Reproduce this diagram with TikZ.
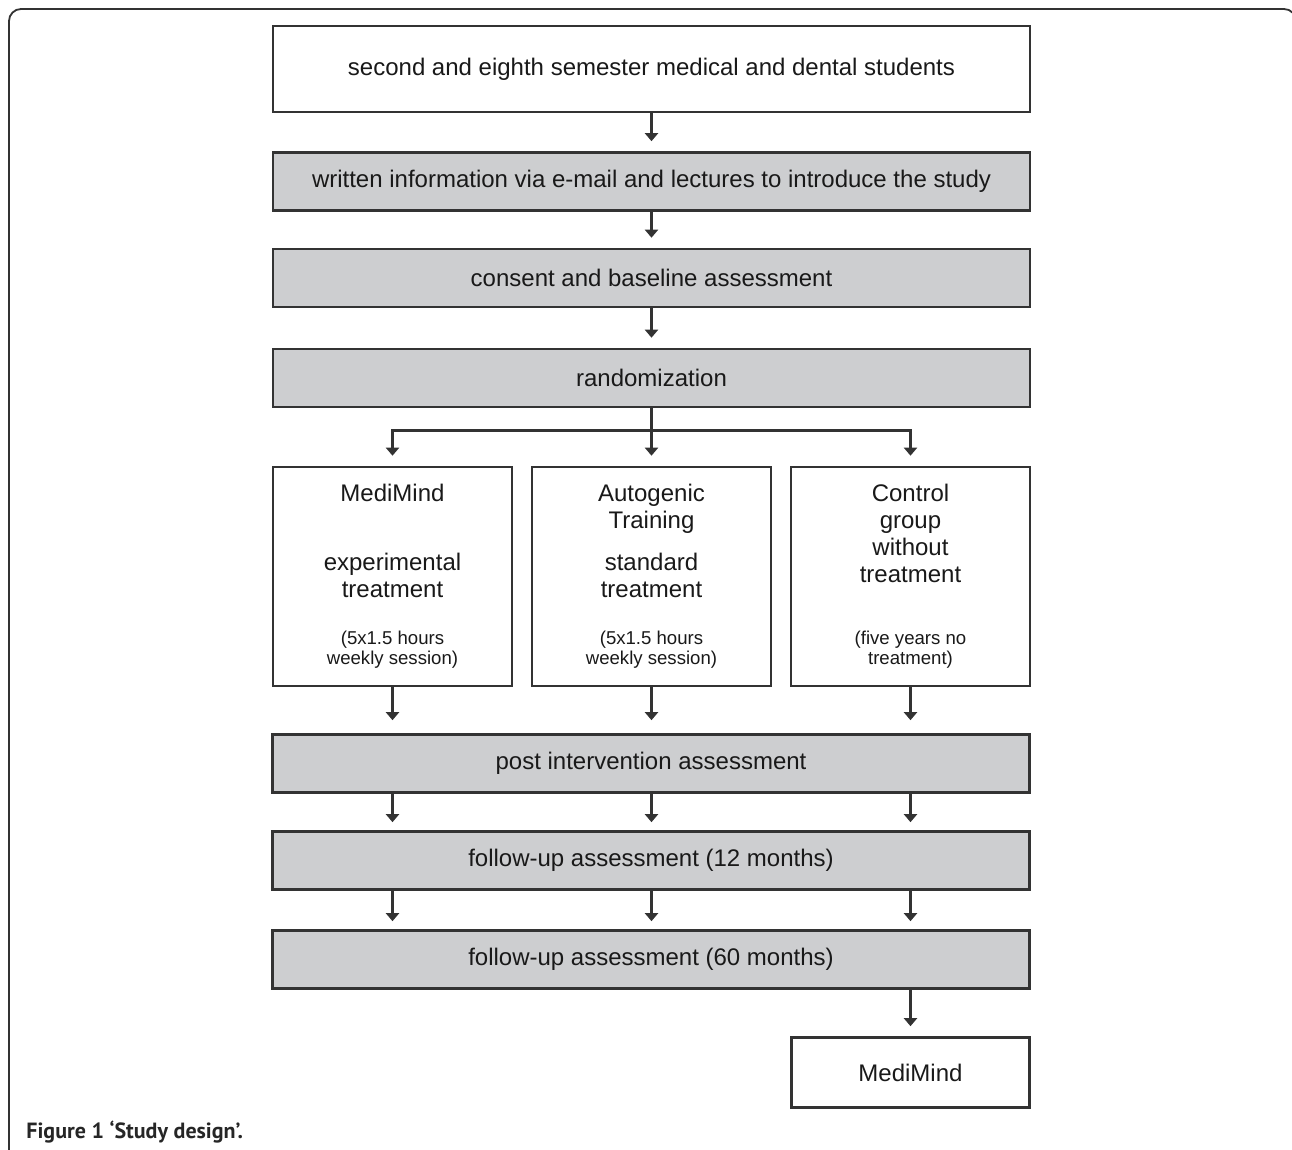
\documentclass[tikz,border=0pt]{standalone}
\usepackage{fontspec}
\setmainfont{Liberation Sans}
\newfontfamily\capfont{PT Sans}
\usetikzlibrary{shapes.geometric, arrows.meta}
\definecolor{boxgray}{RGB}{205,206,208}
\definecolor{linegray}{RGB}{51,51,51}
\newcommand{\notefont}{\fontsize{9.3}{10}\selectfont}
\tikzstyle{whitebox} = [rectangle, minimum width=378.5pt, minimum height=29pt, inner sep=0pt, align=flush center, draw=linegray, line width=1.3pt, fill=white]
\tikzstyle{graybox} = [whitebox, fill=boxgray]
\tikzstyle{armbox} = [whitebox, minimum width=119.5pt, text width=119.5pt, minimum height=109.5pt]
\tikzstyle{arrow} = [line width=1.3pt, draw=linegray, -{Triangle[width=6.5pt,length=4pt]}, shorten >=5pt]
\begin{document}
\begin{tikzpicture}[x=0.5pt, y=-0.5pt, node distance=50pt, font=\fontsize{12}{13.5}\selectfont, text=black!90]
\useasboundingbox (0,0) rectangle (1292,1150);
\draw [linegray, line width=0.9pt, rounded corners=6pt] (9,1170) -- (9,9) -- (1296,9) -- (1296,1170);
\node (students) [whitebox, minimum height=43pt] at (651.5,69) {second and eighth semester medical and dental students};
\node (info) [graybox, below of = students, yshift=-6.25pt] {written information via e-mail and lectures to introduce the study};
\node (consent) [graybox, below of = info, yshift=1.75pt] {consent and baseline assessment};
\node (rand) [graybox, below of = consent] {randomization};
\node (grpB) [armbox, below of = rand, yshift=-49.25pt] {Autogenic\\Training\\[7.5pt]standard\\treatment\par\vspace{13.5pt}{\notefont (5x1.5 hours\\weekly session)\par}};
\node (grpA) [armbox, left of = grpB, xshift=-79.5pt] {MediMind\\[21pt]experimental\\treatment\par\vspace{13.5pt}{\notefont (5x1.5 hours\\weekly session)\par}};
\node (grpC) [armbox, right of = grpB, xshift=79.5pt] {Control\\group\\without\\treatment\par\vspace{21pt}{\notefont (five years no\\treatment)\par}};
\node (post) [graybox, below of = grpB, yshift=-43.5pt, xshift=-0.25pt] {post intervention assessment};
\node (fu12) [graybox, below of = post, yshift=1.5pt] {follow-up assessment (12 months)};
\node (fu60) [graybox, below of = fu12, yshift=0.5pt] {follow-up assessment (60 months)};
\node (medimind) [whitebox, minimum width=119pt, minimum height=35pt, below of = fu60, yshift=-6.5pt, xshift=129.75pt] {MediMind};
\node (caption) [anchor=base west, inner sep=0pt, font=\capfont\bfseries\fontsize{11}{13}\selectfont, text=black!85] at (26,1138) {Figure 1 ‘Study design’.};
\draw [arrow] (students) -- (info);
\draw [arrow] (info) -- (consent);
\draw [arrow] (consent) -- (rand);
\draw [arrow] (rand) -- (grpB);
\draw [arrow] ([yshift=-11pt]rand.south) -| (grpA);
\draw [arrow] ([yshift=-11pt]rand.south) -| (grpC);
\foreach \g in {grpA, grpB, grpC} {
  \draw [arrow, shorten >=6.5pt] (\g) -- (post.north -| \g);
  \draw [arrow, shorten >=4pt] (post.south -| \g) -- (fu12.north -| \g);
  \draw [arrow, shorten >=4pt] (fu12.south -| \g) -- (fu60.north -| \g);
}
\draw [arrow] (fu60.south -| medimind) -- (medimind);
\end{tikzpicture}
\end{document}
